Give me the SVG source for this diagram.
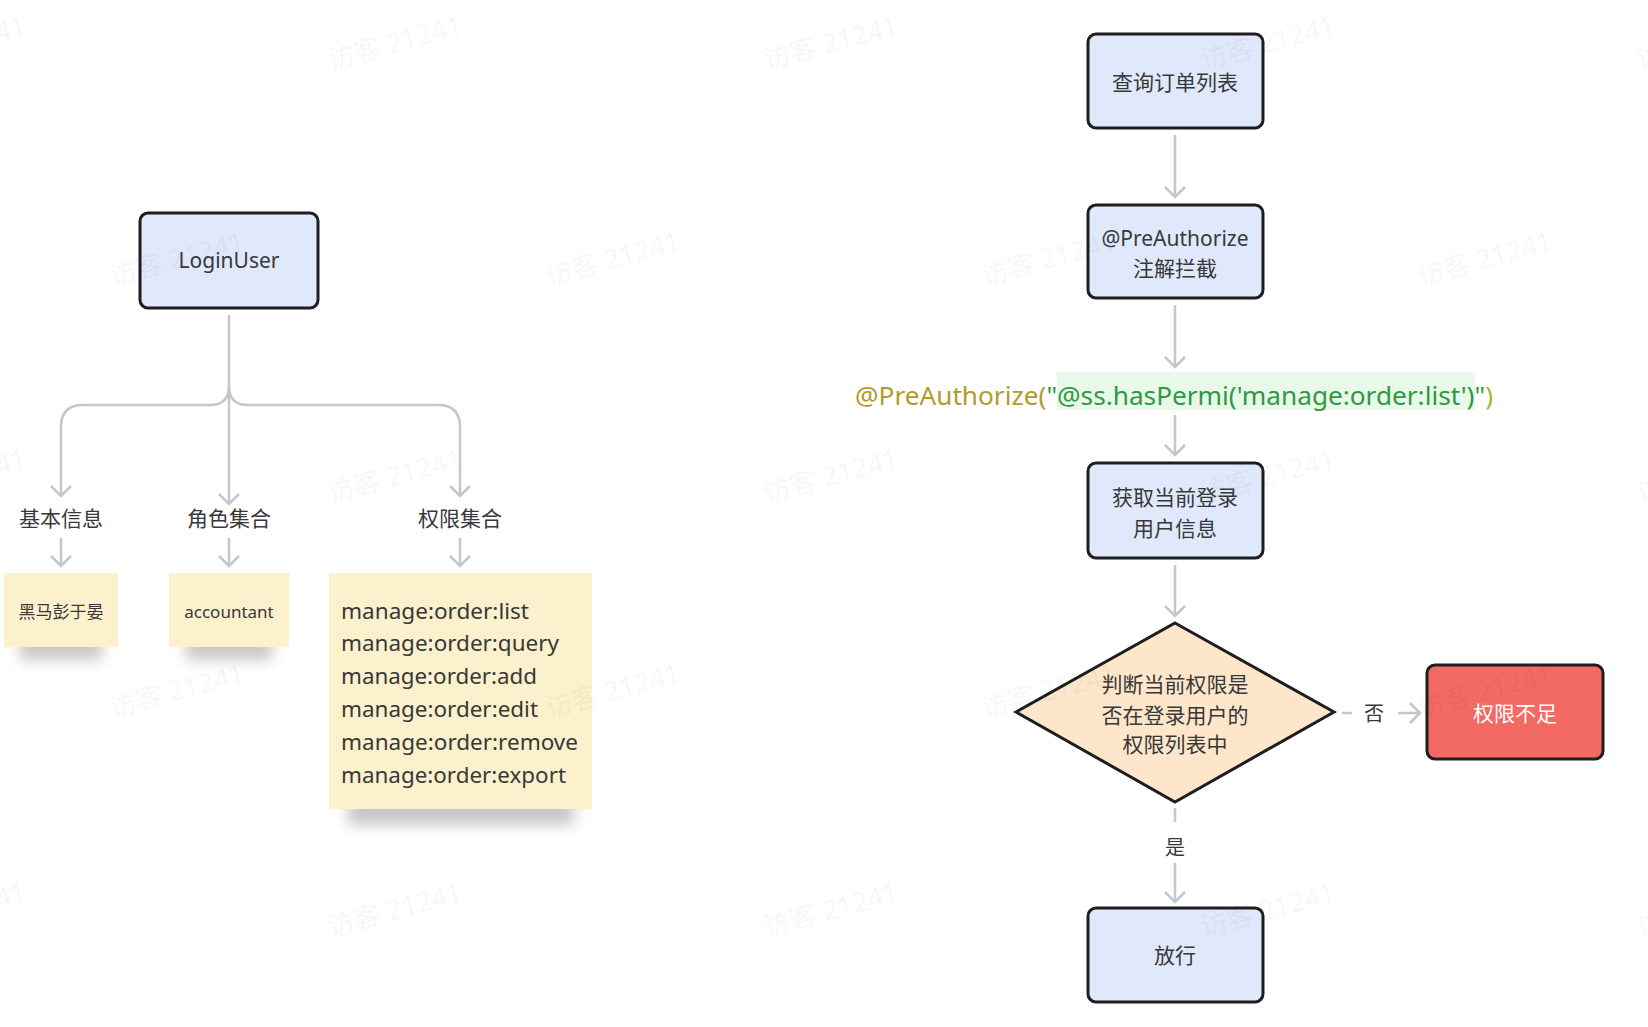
<svg xmlns="http://www.w3.org/2000/svg" width="1648" height="1027" viewBox="0 0 1648 1027">
<style>
text{font-family:'Noto Sans','Noto Sans CJK SC',sans-serif;fill:#383838}
.box{fill:#e0e8fc;stroke:#1e1e1e;stroke-width:3}
.note{fill:#fdf0cc}
.conn{fill:none;stroke:#c3c6cc;stroke-width:2.5}
.lbl{font-size:21px;text-anchor:middle}
.perm{font-size:22px}
.shadow{fill:#000;fill-opacity:0.22}
.wm{font-size:27px;fill:#000;fill-opacity:0.05;text-anchor:middle}
</style>
<defs>
<marker id="arr" viewBox="-12 -12 14 24" markerWidth="14" markerHeight="24" refX="0" refY="0" orient="auto" markerUnits="userSpaceOnUse">
<path d="M-10,-10 L0,0 L-10,10" fill="none" stroke="#c3c6cc" stroke-width="2.5"/>
</marker>
<filter id="sh" x="-40%" y="-150%" width="180%" height="400%">
<feGaussianBlur stdDeviation="7"/>
</filter>
</defs>
<rect width="1648" height="1027" fill="#ffffff"/>

<g id="connectors">
<path class="conn" d="M229,315 V504" marker-end="url(#arr)"/>
<path class="conn" d="M229,386 Q229,405 210,405 H83 Q61,405 61,427 V496" marker-end="url(#arr)"/>
<path class="conn" d="M229,386 Q229,405 248,405 H438 Q460,405 460,427 V496" marker-end="url(#arr)"/>
<path class="conn" d="M61,538 V566" marker-end="url(#arr)"/>
<path class="conn" d="M229,538 V566" marker-end="url(#arr)"/>
<path class="conn" d="M460,538 V566" marker-end="url(#arr)"/>
<path class="conn" d="M1175,135 V197" marker-end="url(#arr)"/>
<path class="conn" d="M1175,305 V367" marker-end="url(#arr)"/>
<path class="conn" d="M1175,415 V455" marker-end="url(#arr)"/>
<path class="conn" d="M1175,565 V616" marker-end="url(#arr)"/>
<path class="conn" d="M1342,713 H1352"/>
<path class="conn" d="M1398,713 H1420" marker-end="url(#arr)"/>
<text class="lbl" x="1374" y="721" style="font-size:20px">否</text>
<path class="conn" d="M1175,808 V822"/>
<path class="conn" d="M1175,863 V902" marker-end="url(#arr)"/>
<text class="lbl" x="1175" y="855" style="font-size:20px">是</text>
</g>

<g id="loginuser">
<rect class="box" x="140" y="213" width="178" height="95" rx="8"/>
<text class="lbl" x="229" y="268">LoginUser</text>
</g>
<g id="basic-label"><text class="lbl" x="61" y="526">基本信息</text></g>
<g id="role-label"><text class="lbl" x="229" y="526">角色集合</text></g>
<g id="perm-label"><text class="lbl" x="460" y="526">权限集合</text></g>

<g id="basic-value">
<rect class="shadow" x="20" y="636" width="82" height="24" filter="url(#sh)"/>
<rect class="note" x="4" y="573" width="114" height="74"/>
<text class="lbl" x="61" y="618" style="font-size:17px">黑马彭于晏</text>
</g>
<g id="role-value">
<rect class="shadow" x="186" y="636" width="86" height="24" filter="url(#sh)"/>
<rect class="note" x="169" y="573" width="120" height="74"/>
<text class="lbl" x="229" y="618" style="font-size:17px">accountant</text>
</g>
<g id="perm-value">
<rect class="shadow" x="348" y="797" width="226" height="28" filter="url(#sh)"/>
<rect class="note" x="329" y="573" width="263" height="236"/>
<text class="perm" x="341" y="619" textLength="188" lengthAdjust="spacingAndGlyphs">manage:order:list</text>
<text class="perm" x="341" y="651" textLength="218" lengthAdjust="spacingAndGlyphs">manage:order:query</text>
<text class="perm" x="341" y="684" textLength="196" lengthAdjust="spacingAndGlyphs">manage:order:add</text>
<text class="perm" x="341" y="717" textLength="197" lengthAdjust="spacingAndGlyphs">manage:order:edit</text>
<text class="perm" x="341" y="750" textLength="237" lengthAdjust="spacingAndGlyphs">manage:order:remove</text>
<text class="perm" x="341" y="783" textLength="225" lengthAdjust="spacingAndGlyphs">manage:order:export</text>
</g>

<g id="query-orders">
<rect class="box" x="1088" y="34" width="175" height="94" rx="8"/>
<text class="lbl" x="1175" y="90">查询订单列表</text>
</g>
<g id="preauthorize">
<rect class="box" x="1088" y="205" width="175" height="93" rx="8"/>
<text class="lbl" x="1175" y="246">@PreAuthorize</text>
<text class="lbl" x="1175" y="276">注解拦截</text>
</g>
<g id="code">
<rect x="1057" y="372" width="418" height="38" fill="#e9f8e9"/>
<text x="855" y="405" style="font-size:26px" textLength="638" lengthAdjust="spacingAndGlyphs"><tspan fill="#b39a2c">@PreAuthorize(</tspan><tspan fill="#2e9a44">"@ss.hasPermi('manage:order:list')"</tspan><tspan fill="#a9b536">)</tspan></text>
</g>
<g id="get-user">
<rect class="box" x="1088" y="463" width="175" height="95" rx="8"/>
<text class="lbl" x="1175" y="505">获取当前登录</text>
<text class="lbl" x="1175" y="536">用户信息</text>
</g>
<g id="decision">
<polygon points="1175,623 1334,712 1175,802 1016,712" fill="#fde6c9" stroke="#1e1e1e" stroke-width="3" stroke-linejoin="miter"/>
<text class="lbl" x="1175" y="692">判断当前权限是</text>
<text class="lbl" x="1175" y="723">否在登录用户的</text>
<text class="lbl" x="1175" y="752">权限列表中</text>
</g>
<g id="denied">
<rect x="1427" y="665" width="176" height="94" rx="8" fill="#f26a63" stroke="#1e1e1e" stroke-width="3"/>
<text class="lbl" x="1515" y="721" style="fill:#ffffff">权限不足</text>
</g>
<g id="allow">
<rect class="box" x="1088" y="908" width="175" height="94" rx="8"/>
<text class="lbl" x="1175" y="963">放行</text>
</g>

<g id="watermarks">
<text class="wm" transform="translate(-39,52) rotate(-15)">访客 21241</text>
<text class="wm" transform="translate(397,52) rotate(-15)">访客 21241</text>
<text class="wm" transform="translate(833,52) rotate(-15)">访客 21241</text>
<text class="wm" transform="translate(1270,52) rotate(-15)">访客 21241</text>
<text class="wm" transform="translate(1706,52) rotate(-15)">访客 21241</text>
<text class="wm" transform="translate(179,268) rotate(-15)">访客 21241</text>
<text class="wm" transform="translate(615,268) rotate(-15)">访客 21241</text>
<text class="wm" transform="translate(1051,268) rotate(-15)">访客 21241</text>
<text class="wm" transform="translate(1487,268) rotate(-15)">访客 21241</text>
<text class="wm" transform="translate(-39,485) rotate(-15)">访客 21241</text>
<text class="wm" transform="translate(397,485) rotate(-15)">访客 21241</text>
<text class="wm" transform="translate(833,485) rotate(-15)">访客 21241</text>
<text class="wm" transform="translate(1270,485) rotate(-15)">访客 21241</text>
<text class="wm" transform="translate(1706,485) rotate(-15)">访客 21241</text>
<text class="wm" transform="translate(179,700) rotate(-15)">访客 21241</text>
<text class="wm" transform="translate(615,700) rotate(-15)">访客 21241</text>
<text class="wm" transform="translate(1051,700) rotate(-15)">访客 21241</text>
<text class="wm" transform="translate(1487,700) rotate(-15)">访客 21241</text>
<text class="wm" transform="translate(-39,919) rotate(-15)">访客 21241</text>
<text class="wm" transform="translate(397,919) rotate(-15)">访客 21241</text>
<text class="wm" transform="translate(833,919) rotate(-15)">访客 21241</text>
<text class="wm" transform="translate(1270,919) rotate(-15)">访客 21241</text>
<text class="wm" transform="translate(1706,919) rotate(-15)">访客 21241</text>
</g>
</svg>
